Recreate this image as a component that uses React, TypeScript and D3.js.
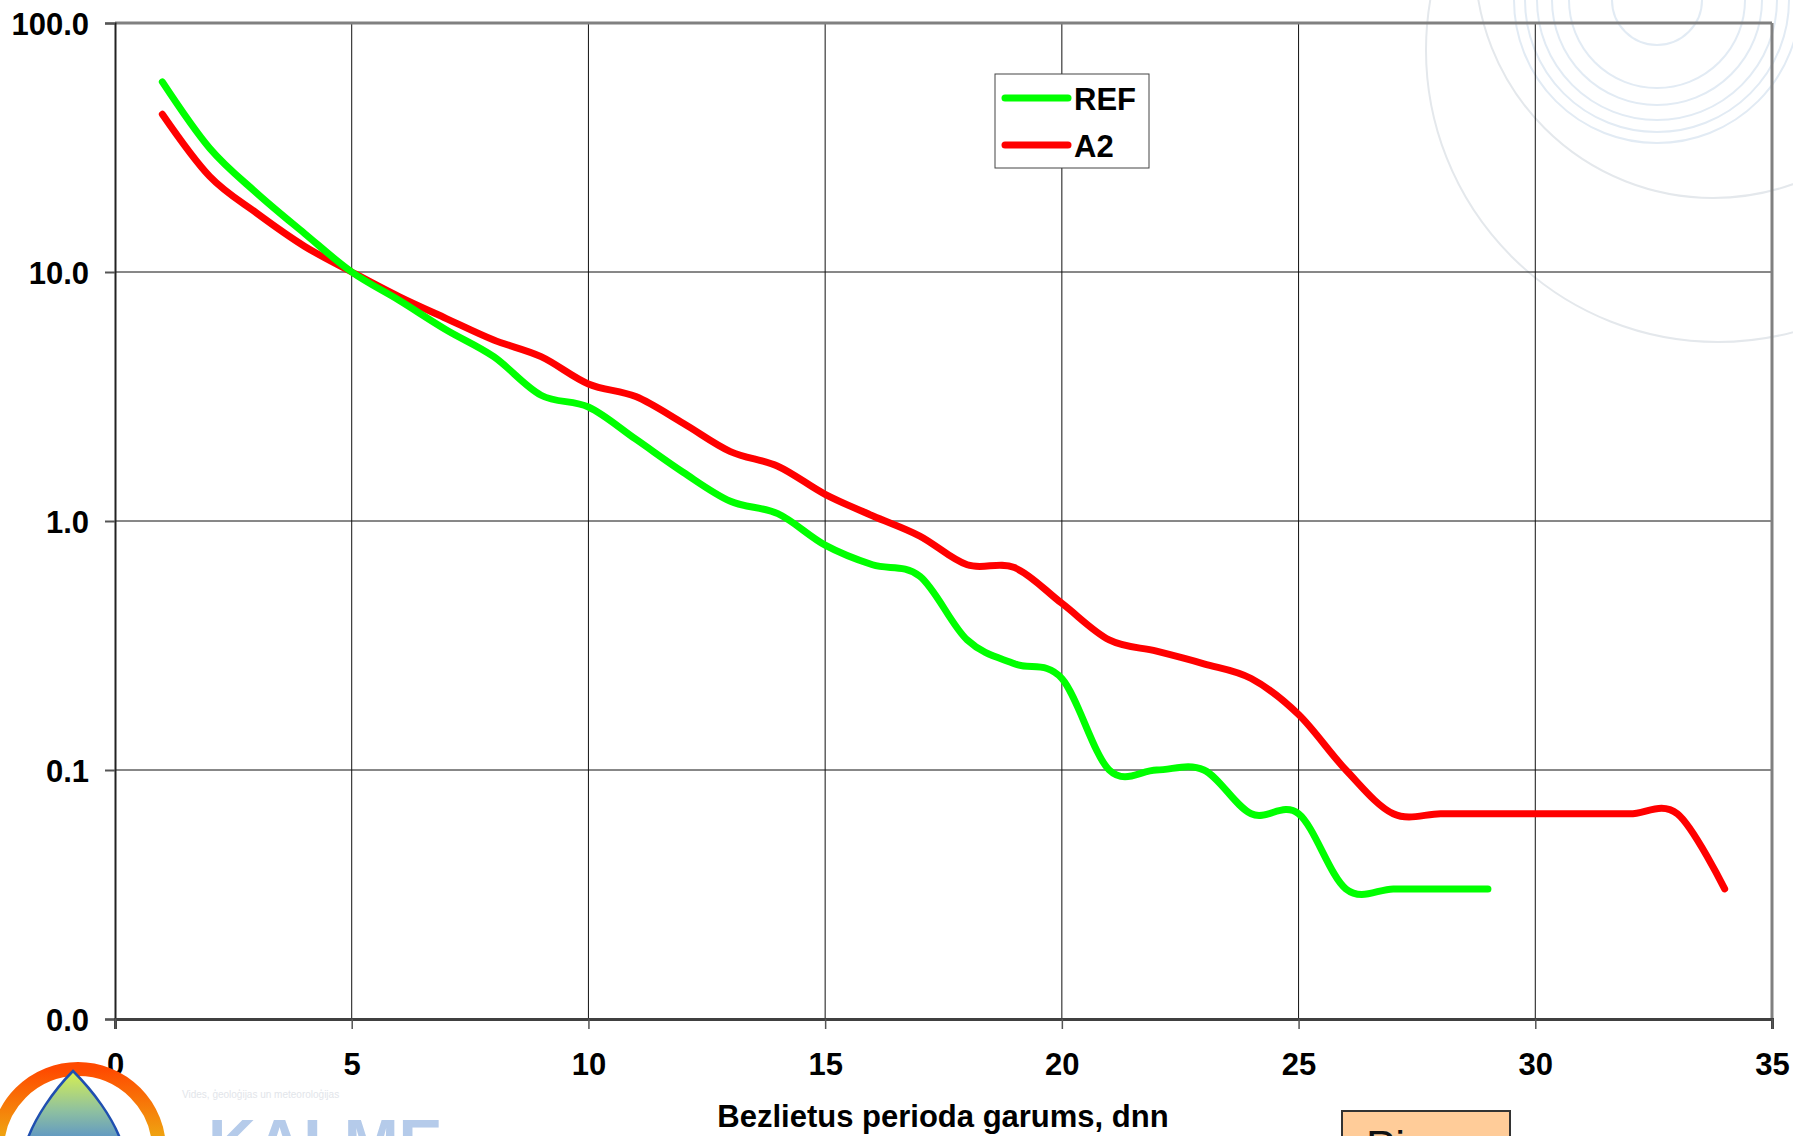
import { useEffect, useRef } from 'react';
import * as d3 from 'd3';

// Bezlietus perioda garums (days) vs. frequency, log scale
const refDays = [1, 2, 3, 4, 5, 6, 7, 8, 9, 10, 11, 12, 13, 14, 15, 16, 17, 18, 19, 20, 21, 22, 23, 24, 25, 26, 27, 28, 29];
const refValues = [58, 31.4, 20.7, 14.3, 10.0, 7.7, 5.85, 4.57, 3.2, 2.87, 2.13, 1.57, 1.2, 1.07, 0.8, 0.667, 0.6, 0.333, 0.267, 0.233, 0.1, 0.1, 0.1, 0.0667, 0.0667, 0.0333, 0.0333, 0.0333, 0.0333];

const a2Days = [1, 2, 3, 4, 5, 6, 7, 8, 9, 10, 11, 12, 13, 14, 15, 16, 17, 18, 19, 20, 21, 22, 23, 24, 25, 26, 27, 28, 29, 30, 31, 32, 33, 34];
const a2Values = [43, 24.2, 17.2, 12.7, 10.0, 7.96, 6.5, 5.33, 4.57, 3.55, 3.16, 2.47, 1.9, 1.66, 1.28, 1.05, 0.87, 0.667, 0.65, 0.467, 0.333, 0.3, 0.267, 0.233, 0.167, 0.1, 0.0667, 0.0667, 0.0667, 0.0667, 0.0667, 0.0667, 0.0667, 0.0333];

const xTicks = [0, 5, 10, 15, 20, 25, 30, 35];
const yTicks = [100, 10, 1, 0.1, 0.01];

const seriesNames = ['REF', 'A2'];
const seriesColors = ['#00ff00', '#ff0000'];

const W = 1793;
const H = 1136;

export default function App() {
  const svgRef = useRef<SVGSVGElement>(null);

  useEffect(() => {
    if (!svgRef.current) return;
    const svg = d3.select(svgRef.current);
    svg.selectAll('*').remove();

    const left = 115, right = 1772, top = 23, bottom = 1019;
    const font = 'Liberation Sans, Arial, sans-serif';

    const x = d3.scaleLinear().domain([0, 35]).range([left, right]);
    const y = d3.scaleLog().domain([0.01, 100]).range([bottom, top]);

    svg.append('rect').attr('width', W).attr('height', H).attr('fill', '#ffffff');

    const defs = svg.append('defs');
    const ringGrad = defs.append('linearGradient').attr('id', 'ringGrad')
      .attr('x1', '0%').attr('y1', '0%').attr('x2', '0%').attr('y2', '100%');
    ringGrad.append('stop').attr('offset', '0%').attr('stop-color', '#ff4a00');
    ringGrad.append('stop').attr('offset', '40%').attr('stop-color', '#f0a010');
    ringGrad.append('stop').attr('offset', '100%').attr('stop-color', '#d8c020');
    const dropGrad = defs.append('linearGradient').attr('id', 'dropGrad')
      .attr('x1', '0%').attr('y1', '0%').attr('x2', '0%').attr('y2', '100%');
    dropGrad.append('stop').attr('offset', '0%').attr('stop-color', '#d8f050');
    dropGrad.append('stop').attr('offset', '45%').attr('stop-color', '#8ec0a0');
    dropGrad.append('stop').attr('offset', '100%').attr('stop-color', '#3c78e0');

    // watermark rings, top right
    const wm = svg.append('g').attr('fill', 'none');
    [45, 88, 105, 120, 132, 143].forEach(r => {
      wm.append('circle').attr('cx', 1657).attr('cy', 0).attr('r', r)
        .attr('stroke', '#e2ebf4').attr('stroke-width', 2);
    });
    wm.append('circle').attr('cx', 1713).attr('cy', -40).attr('r', 238)
      .attr('stroke', '#e4e8ec').attr('stroke-width', 2);
    wm.append('circle').attr('cx', 1718).attr('cy', 50).attr('r', 292)
      .attr('stroke', '#e4e8ec').attr('stroke-width', 2);

    // grid
    const grid = svg.append('g');
    xTicks.filter(t => t > 0 && t < 35).forEach(t => {
      grid.append('line').attr('x1', x(t)).attr('x2', x(t)).attr('y1', top).attr('y2', bottom)
        .attr('stroke', '#111').attr('stroke-width', 1);
    });
    yTicks.filter(t => t < 100 && t > 0.01).forEach(t => {
      grid.append('line').attr('x1', left).attr('x2', right).attr('y1', y(t)).attr('y2', y(t))
        .attr('stroke', '#111').attr('stroke-width', 1);
    });

    // frame
    svg.append('line').attr('x1', left).attr('x2', right).attr('y1', top).attr('y2', top)
      .attr('stroke', '#808080').attr('stroke-width', 3);
    svg.append('line').attr('x1', right).attr('x2', right).attr('y1', top).attr('y2', bottom)
      .attr('stroke', '#808080').attr('stroke-width', 3);

    // y axis
    const yAxis = svg.append('g').attr('transform', `translate(${left},0)`)
      .call(d3.axisLeft(y).tickValues(yTicks).tickSize(10).tickFormat(d3.format('.1f') as any));
    yAxis.select('.domain').attr('stroke', '#222').attr('stroke-width', 2);
    yAxis.selectAll('.tick line').attr('stroke', '#555').attr('stroke-width', 2);
    yAxis.selectAll('.tick text')
      .attr('x', -26).attr('dy', '0.36em')
      .style('font-family', font).style('font-size', '31px').style('font-weight', 'bold').attr('fill', '#000');

    // x axis
    const xAxis = svg.append('g').attr('transform', `translate(0,${bottom})`)
      .call(d3.axisBottom(x).tickValues(xTicks).tickSize(10).tickFormat(d3.format('d') as any));
    xAxis.select('.domain').attr('stroke', '#404040').attr('stroke-width', 3);
    xAxis.selectAll('.tick line').attr('stroke', '#555').attr('stroke-width', 1.5);
    xAxis.selectAll('.tick text')
      .attr('y', 45).attr('dy', '0.36em')
      .style('font-family', font).style('font-size', '31px').style('font-weight', 'bold').attr('fill', '#000');

    // series
    const line = d3.line<[number, number]>()
      .x(d => x(d[0]))
      .y(d => y(d[1]))
      .curve(d3.curveCardinal.tension(0));

    const series: [number, number][][] = [
      refDays.map((d, i) => [d, refValues[i]]),
      a2Days.map((d, i) => [d, a2Values[i]]),
    ];
    [1, 0].forEach(i => {
      svg.append('path').datum(series[i])
        .attr('fill', 'none')
        .attr('stroke', seriesColors[i])
        .attr('stroke-width', 7)
        .attr('stroke-linecap', 'round')
        .attr('stroke-linejoin', 'round')
        .attr('d', line);
    });

    // legend
    const lg = svg.append('g').attr('transform', 'translate(995,74)');
    lg.append('rect').attr('width', 154).attr('height', 94)
      .attr('fill', '#fff').attr('stroke', '#444').attr('stroke-width', 1);
    seriesNames.forEach((name, i) => {
      const ly = 24 + i * 47;
      lg.append('line').attr('x1', 10).attr('x2', 73).attr('y1', ly).attr('y2', ly)
        .attr('stroke', seriesColors[i]).attr('stroke-width', 7).attr('stroke-linecap', 'round');
      lg.append('text').attr('x', 79).attr('y', ly + 1).attr('dy', '0.36em')
        .style('font-family', font).style('font-size', '31px').style('font-weight', 'bold')
        .text(name);
    });

    // axis title
    svg.append('text').attr('x', 943).attr('y', 1127)
      .attr('text-anchor', 'middle')
      .style('font-family', font).style('font-size', '31px').style('font-weight', 'bold')
      .text('Bezlietus perioda garums, dnn');

    // bottom-right tag (cut off)
    svg.append('rect').attr('x', 1342).attr('y', 1111).attr('width', 168).attr('height', 60)
      .attr('fill', '#ffcc99').attr('stroke', '#333').attr('stroke-width', 2);
    svg.append('text').attr('x', 1366).attr('y', 1162)
      .style('font-family', font).style('font-size', '44px').attr('fill', '#111')
      .text('Pi');

    // logo, bottom-left (cut off)
    svg.append('circle').attr('cx', 78).attr('cy', 1150).attr('r', 81)
      .attr('fill', '#fff').attr('stroke', 'url(#ringGrad)').attr('stroke-width', 14);
    svg.append('path')
      .attr('d', 'M73,1071 C62,1082 28,1120 22,1160 L126,1160 C120,1120 84,1082 73,1071 Z')
      .attr('fill', 'url(#dropGrad)').attr('stroke', '#1f4fb0').attr('stroke-width', 2.5);
    svg.append('text').attr('x', 182).attr('y', 1098)
      .style('font-family', font).style('font-size', '10px').attr('fill', '#e2e5ea')
      .text('Vides, ģeoloģijas un meteoroloģijas');
    svg.append('text').attr('x', 208).attr('y', 1166)
      .style('font-family', font).style('font-size', '66px').style('font-weight', 'bold')
      .attr('fill', '#b5cbea')
      .text('KALME');
  }, []);

  return (
    <svg ref={svgRef} width={W} height={H}
      style={{ position: 'absolute', left: 0, top: 0, display: 'block' }} />
  );
}
